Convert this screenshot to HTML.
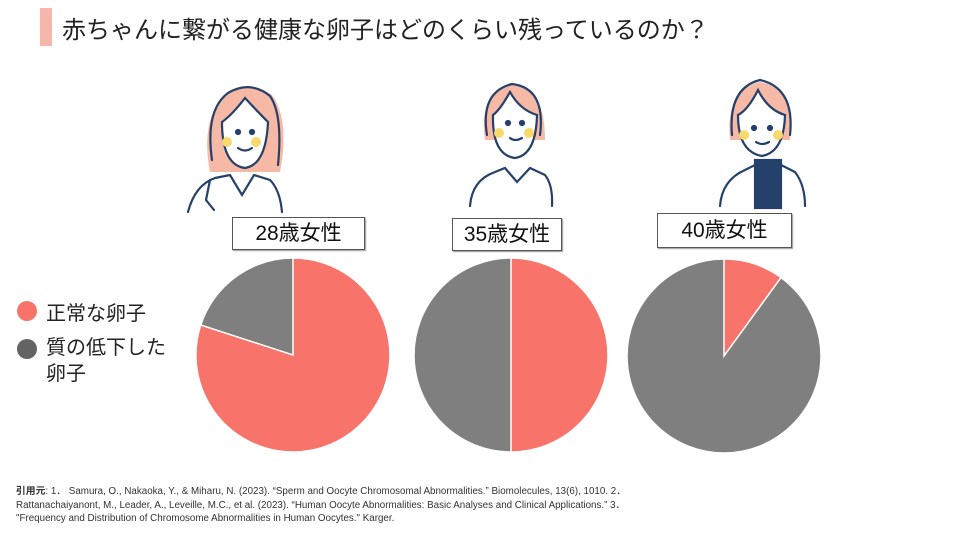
<!DOCTYPE html>
<html><head><meta charset="utf-8"><style>
body{margin:0;width:960px;height:540px;background:#fff;overflow:hidden;font-family:"Liberation Sans","Noto Sans CJK JP",sans-serif;position:relative}
.t{position:absolute;white-space:nowrap}
.box{position:absolute;border:1px solid #555;background:#fff;font-size:21px;text-align:center;box-sizing:border-box;box-shadow:1px 1px 1px #999;color:#111}
</style></head><body>
<div style="position:absolute;left:40px;top:8px;width:12px;height:38px;background:#f5b7ab"></div>
<div class="t" style="left:62px;top:10px;font-size:24px;color:#222">赤ちゃんに繋がる健康な卵子はどのくらい残っているのか？</div>
<svg width="960" height="540" style="position:absolute;left:0;top:0">
<g stroke="#25406a" stroke-width="2.2" fill="none" stroke-linecap="round">
<path d="M210 172 Q200 120 225 95 Q248 78 272 95 Q290 120 280 172 Z" fill="#f6b9a6" stroke="none"/>
<path d="M212 160 Q205 110 228 93 Q250 80 270 96 Q283 115 278 165"/>
<path d="M222 122 Q222 165 245 168 Q266 165 268 122 Q258 112 245 98 Q232 115 222 122Z" fill="#fff"/>
<path d="M188 212 Q195 185 215 178 L230 175 L242 195 L254 175 L270 180 Q280 190 282 212"/>
<path d="M210 180 L206 200 L214 210"/>
<circle cx="238" cy="132" r="2" fill="#25406a"/><circle cx="252" cy="132" r="2" fill="#25406a"/>
<path d="M238 148 Q245 153 252 148"/>
<path d="M485 140 Q478 95 510 85 Q545 85 545 140 Z" fill="#f6b9a6" stroke="none"/>
<path d="M487 135 Q480 92 512 84 Q546 88 540 135"/>
<path d="M493 115 Q492 155 515 158 Q536 155 537 115 Q520 110 510 92 Q500 110 493 115Z" fill="#fff"/>
<path d="M470 206 Q472 180 495 172 L505 168 L517 182 L530 168 L545 175 Q553 185 552 206"/>
<circle cx="508" cy="123" r="2" fill="#25406a"/><circle cx="522" cy="123" r="2" fill="#25406a"/>
<path d="M510 138 Q515 142 522 138"/>
<path d="M730 140 Q725 90 760 82 Q795 88 790 140 Z" fill="#f6b9a6" stroke="none"/>
<path d="M732 135 Q728 88 760 80 Q795 88 790 135"/>
<path d="M738 115 Q738 152 762 156 Q784 152 785 115 Q768 110 758 90 Q748 110 738 115Z" fill="#fff"/>
<rect x="755" y="160" width="26" height="48" fill="#25406a"/>
<path d="M720 206 Q722 180 745 170 L755 165 M781 165 L795 172 Q805 185 805 206"/>
<circle cx="754" cy="128" r="2" fill="#25406a"/><circle cx="770" cy="128" r="2" fill="#25406a"/>
<path d="M756 142 Q762 146 769 142"/>
</g>
<g fill="#f7d96e"><circle cx="227" cy="142" r="5"/><circle cx="256" cy="142" r="5"/><circle cx="499" cy="133" r="5"/><circle cx="529" cy="133" r="5"/><circle cx="744" cy="135" r="5"/><circle cx="778" cy="135" r="5"/></g>
<g stroke="#fff" stroke-width="1.5">
<circle cx="293" cy="355" r="97" fill="#7f7f7f"/>
<path d="M293 355 L293 258 A97 97 0 1 1 200.7 325.0 Z" fill="#f8736a"/>
<circle cx="511" cy="355" r="97" fill="#7f7f7f"/>
<path d="M511 355 L511 258 A97 97 0 0 1 511 452 Z" fill="#f8736a"/>
<circle cx="724" cy="356" r="97" fill="#7f7f7f"/>
<path d="M724 356 L724 259 A97 97 0 0 1 781.0 277.5 Z" fill="#f8736a"/>
</g>
<circle cx="27" cy="311" r="10" fill="#f8736a"/>
<circle cx="27" cy="349" r="10" fill="#636363"/>
</svg>
<div class="box" style="left:232px;top:217px;width:133px;height:33px;line-height:32px">28歳女性</div>
<div class="box" style="left:452px;top:218px;width:110px;height:33px;line-height:32px">35歳女性</div>
<div class="box" style="left:657px;top:213px;width:135px;height:35px;line-height:34px">40歳女性</div>
<div class="t" style="left:46px;top:297px;font-size:20px;color:#222">正常な卵子</div>
<div class="t" style="left:46px;top:335px;font-size:20px;color:#222;line-height:26px">質の低下した<br>卵子</div>
<div class="t" style="left:16px;top:485px;font-size:9.8px;color:#333;line-height:13.5px"><b>引用元</b>: 1．&nbsp;Samura, O., Nakaoka, Y., &amp; Miharu, N. (2023). “Sperm and Oocyte Chromosomal Abnormalities.” Biomolecules, 13(6), 1010. 2．<br>Rattanachaiyanont, M., Leader, A., Leveille, M.C., et al. (2023). “Human Oocyte Abnormalities: Basic Analyses and Clinical Applications.” 3．<br>"Frequency and Distribution of Chromosome Abnormalities in Human Oocytes." Karger.</div>
</body></html>
